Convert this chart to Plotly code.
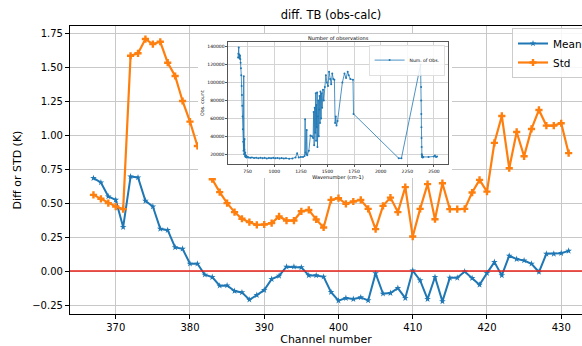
import plotly.graph_objects as go

# ---- main chart data ----
channels = list(range(367, 432))
mean_vals = [0.684, 0.652, 0.549, 0.524, 0.324, 0.696, 0.689, 0.517, 0.475, 0.311,
             0.301, 0.174, 0.164, 0.054, 0.054, -0.027, -0.044, -0.108, -0.106, -0.147,
             -0.157, -0.211, -0.177, -0.140, -0.059, -0.035, 0.032, 0.032, 0.027, -0.032,
             -0.032, -0.042, -0.155, -0.218, -0.199, -0.206, -0.194, -0.216, -0.017, -0.167,
             -0.162, -0.125, -0.199, 0.004, -0.069, -0.206, -0.044, -0.223, -0.050, -0.050,
             -0.003, -0.052, -0.101, -0.015, 0.066, -0.032, 0.113, 0.088, 0.078, 0.054,
             -0.007, 0.127, 0.127, 0.132, 0.149]
std_vals = [0.561, 0.532, 0.500, 0.475, 0.456, 1.585, 1.603, 1.708, 1.671, 1.688,
            1.534, 1.436, 1.252, 1.100, 0.921, 0.800, 0.676, 0.581, 0.500, 0.434,
            0.385, 0.360, 0.340, 0.343, 0.353, 0.402, 0.372, 0.372, 0.440, 0.450,
            0.380, 0.321, 0.524, 0.537, 0.495, 0.512, 0.524, 0.458, 0.309, 0.480,
            0.541, 0.434, 0.618, 0.254, 0.458, 0.640, 0.382, 0.647, 0.456, 0.456,
            0.458, 0.578, 0.671, 0.585, 0.944, 1.142, 0.757, 1.024, 0.845, 1.046,
            1.186, 1.071, 1.071, 1.088, 0.868]
x_ticks = [370, 380, 390, 400, 410, 420, 430]
y_ticks = [-0.25, 0.0, 0.25, 0.5, 0.75, 1.0, 1.25, 1.5, 1.75]

# ---- inset data ----
wavenumber = [660, 663, 666, 669, 672, 675, 678, 681, 684, 687, 690, 693, 696, 699, 702,
              705, 708, 711, 713, 715, 717, 719, 721, 723, 725, 727, 730, 735, 740, 750,
              760, 775, 790, 810, 830, 850, 870, 890, 910, 930, 950, 970, 990, 1010, 1030,
              1050, 1070, 1090, 1110, 1140, 1170, 1200, 1215, 1230, 1250, 1270, 1285, 1290,
              1295, 1300, 1305, 1310, 1325, 1340, 1355, 1365, 1370, 1375, 1380, 1385, 1390,
              1393, 1396, 1400, 1403, 1406, 1410, 1414, 1418, 1422, 1426, 1430, 1434, 1440,
              1445, 1450, 1458, 1465, 1475, 1485, 1495, 1505, 1515, 1525, 1535, 1545, 1555,
              1565, 1572, 1578, 1585, 1595, 1640, 1660, 1675, 1690, 1700, 1715, 1740, 1745,
              2170, 2195, 2375, 2378, 2380, 2381, 2382, 2383, 2384, 2385, 2386, 2388, 2390,
              2395, 2400, 2450, 2500, 2510, 2520, 2530]
obs_count = [128000, 132000, 139000, 128000, 131000, 127000, 130000, 126000, 122000, 116000,
             108000, 96000, 86000, 74000, 62000,
             48000, 34000, 24000, 107000, 30000, 20000, 25000, 37000, 20000, 18000, 22000,
             17000, 18500, 16500, 17000,
             16500, 16000, 16500, 15800, 16200, 15500, 16000, 15600, 16000, 15400, 15800,
             15500, 16000, 15600, 15800,
             15400, 15700, 15300, 15600, 15000, 15300, 16500, 21000, 16500, 17000, 17000,
             18000, 59000,
             22000, 20000, 47000, 19000, 24000, 41000, 40000, 38000, 67000, 30000, 72000,
             44000, 88000,
             35000, 75000, 50000, 89000, 28000, 62000, 80000, 40000, 70000, 85000, 55000,
             90000, 60000,
             88000, 72000, 92000, 80000, 95000, 108000, 100000, 96000, 112000, 104000, 98000,
             110000, 104000,
             103000, 55000, 62000, 52000, 57000, 100000, 110000, 105000, 112000, 108000,
             104000, 103000, 65000,
             15500, 15500, 120000, 108000, 95000, 80000, 65000, 50000, 38000, 28000, 20000,
             17000, 19000,
             16500, 17000, 17000, 17500, 18500, 17000, 17500]
inset_x_ticks = [750, 1000, 1250, 1500, 1750, 2000, 2250, 2500]
inset_y_ticks = [20000, 40000, 60000, 80000, 100000, 120000, 140000]

BLUE = "#1f77b4"
ORANGE = "#ff7f0e"
FONT = "DejaVu Sans"

# pixel geometry of the plot area (l=70, t=26, w=512, h=288)
def px_x(p):
    return (p - 70) / 512


def px_y(p):
    return (314 - p) / 288


fig = go.Figure()
fig.add_trace(go.Scatter(
    x=channels, y=mean_vals, name="Mean", mode="lines+markers",
    line=dict(color=BLUE, width=2), marker=dict(symbol="star", size=5, color=BLUE),
    xaxis="x", yaxis="y", legend="legend"))
fig.add_trace(go.Scatter(
    x=channels, y=std_vals, name="Std", mode="lines+markers",
    line=dict(color=ORANGE, width=2.2), marker=dict(symbol="cross", size=6, color=ORANGE),
    xaxis="x", yaxis="y", legend="legend"))
# empty trace that only makes the white panel subplot exist
fig.add_trace(go.Scatter(
    x=[], y=[], mode="lines", showlegend=False, hoverinfo="skip",
    xaxis="x2", yaxis="y2"))
fig.add_trace(go.Scatter(
    x=wavenumber, y=obs_count, name="Num. of Obs.", mode="lines+markers",
    line=dict(color=BLUE, width=0.8), marker=dict(symbol="circle", size=2, color=BLUE),
    xaxis="x3", yaxis="y3", legend="legend2"))

fig.add_hline(y=0, line=dict(color="#e8221b", width=1.4))

grid_main = "#c8c8c8"
fig.update_layout(
    width=582, height=346,
    margin=dict(l=70, r=0, t=26, b=32, autoexpand=False),
    paper_bgcolor="white", plot_bgcolor="white",
    font=dict(family=FONT, color="black"),
    title=dict(text="diff. TB (obs-calc)", x=331 / 582, xanchor="center",
               y=1 - 15 / 346, yanchor="middle", font=dict(size=11.5, family=FONT)),
    xaxis=dict(domain=[0, 1], range=[363.84, 432.8], tickvals=x_ticks,
               showgrid=True, gridcolor=grid_main, gridwidth=1.4,
               showline=True, linecolor="black", linewidth=1.2, mirror=True,
               ticks="outside", ticklen=4, tickcolor="black", tickfont=dict(size=10),
               zeroline=False,
               title=dict(text="Channel number", font=dict(size=11), standoff=6)),
    yaxis=dict(domain=[0, 1], range=[-0.316, 1.804], tickvals=y_ticks, tickformat=".2f",
               showgrid=True, gridcolor=grid_main, gridwidth=1.4,
               showline=True, linecolor="black", linewidth=1.2, mirror=False,
               ticks="outside", ticklen=4, tickcolor="black", tickfont=dict(size=10),
               zeroline=False,
               title=dict(text="Diff or STD (K)", font=dict(size=11), standoff=8)),
    # white panel behind the inset figure (empty, axes hidden)
    xaxis2=dict(domain=[px_x(198), px_x(452)], anchor="y2", showticklabels=False,
                showgrid=False, zeroline=False, showline=False, ticks="", range=[0, 1]),
    yaxis2=dict(domain=[px_y(178), px_y(34)], anchor="x2", showticklabels=False,
                showgrid=False, zeroline=False, showline=False, ticks="", range=[0, 1]),
    # inset axes
    xaxis3=dict(domain=[px_x(228.3), px_x(447.7)], anchor="y3",
                range=[568, 2630], tickvals=inset_x_ticks,
                showgrid=True, gridcolor="#d4d4d4", gridwidth=0.7,
                showline=True, linecolor="#555555", linewidth=0.8, mirror=True,
                ticks="outside", ticklen=2, tickcolor="#555555", tickwidth=0.6,
                tickfont=dict(size=4.5), zeroline=False,
                title=dict(text="Wavenumber (cm-1)", font=dict(size=5), standoff=1)),
    yaxis3=dict(domain=[px_y(164.3), px_y(42)], anchor="x3",
                range=[8800, 145200], tickvals=inset_y_ticks, tickformat="d",
                showgrid=True, gridcolor="#d4d4d4", gridwidth=0.7,
                showline=True, linecolor="#555555", linewidth=0.8, mirror=True,
                ticks="outside", ticklen=2, tickcolor="#555555", tickwidth=0.6,
                tickfont=dict(size=4.5), zeroline=False,
                title=dict(text="Obs. count", font=dict(size=4.8), standoff=2)),
    legend=dict(x=px_x(512), y=px_y(28), xanchor="left", yanchor="top",
                bgcolor="rgba(255,255,255,0.85)", bordercolor="#cccccc", borderwidth=1,
                font=dict(size=10.5), itemwidth=30, tracegroupgap=0),
    legend2=dict(x=px_x(445), y=px_y(45), xanchor="right", yanchor="top",
                 bgcolor="rgba(255,255,255,0.85)", bordercolor="#cccccc", borderwidth=0.6,
                 font=dict(size=4.5), itemwidth=30),
    showlegend=True,
    annotations=[dict(text="Number of observations", xref="x3 domain", yref="paper",
                      x=0.5, y=px_y(38), xanchor="center", yanchor="middle",
                      showarrow=False, font=dict(size=5, family=FONT))],
)

fig.write_html("out.html")
